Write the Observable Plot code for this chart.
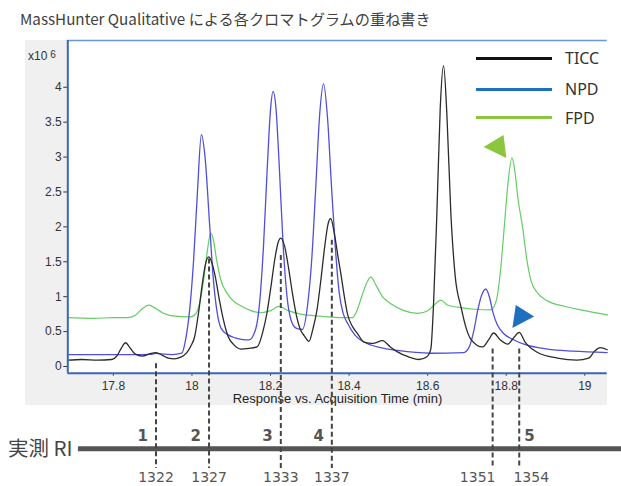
<!DOCTYPE html>
<html><head><meta charset="utf-8">
<script src="https://cdn.jsdelivr.net/npm/d3@7"></script>
<script src="https://cdn.jsdelivr.net/npm/@observablehq/plot@0.6"></script>
<style>
body{margin:0;background:#fff;}
#wrap{position:relative;width:621px;height:486px;overflow:hidden;font-family:"Noto Sans CJK JP","Noto Sans",sans-serif;}
#title{position:absolute;left:20px;top:7px;font-size:15.2px;color:#404040;white-space:nowrap;}
#panel{position:absolute;left:25px;top:40px;width:582px;height:365px;background:#f0f0f0;}
#chart{position:absolute;left:0;top:38px;}
#exp{position:absolute;left:28px;top:49px;font-family:"Liberation Sans",Arial,sans-serif;font-size:12px;color:#333;}
#exp sup{font-size:10px;position:relative;top:-2px;vertical-align:baseline;margin-left:3px;}
.lg{position:absolute;left:476px;width:76px;height:3px;}
.lt{position:absolute;left:565px;font-family:"Noto Sans",sans-serif;font-size:16px;color:#333;line-height:20px;}
#ri{position:absolute;left:8px;top:433px;font-size:20.5px;color:#444;line-height:28px;white-space:nowrap;}
</style></head>
<body>
<div id="wrap">
  <div id="title">MassHunter Qualitative による各クロマトグラムの重ね書き</div>
  <div id="panel"></div>
  <div id="chart"></div>
  <div id="exp">x10<sup>6</sup></div>
  <div id="legend"></div>
  <div id="ri">実測 RI</div>
</div>
<script>
// ---- data (time in min, response in x10^6) ----
const ticc = [[17.684,0.09],[17.72,0.10],[17.76,0.09],[17.795,0.1],[17.81,0.16],[17.82,0.26],[17.831,0.34],[17.842,0.27],[17.855,0.18],[17.874,0.15],[17.892,0.18],[17.908,0.2],[17.925,0.16],[17.94,0.12],[17.955,0.11],[17.97,0.13],[17.987,0.2],[17.997,0.29],[18.007,0.43],[18.017,0.78],[18.027,1.21],[18.035,1.48],[18.042,1.57],[18.05,1.5],[18.06,1.27],[18.07,0.95],[18.08,0.67],[18.092,0.43],[18.107,0.31],[18.124,0.25],[18.145,0.26],[18.166,0.28],[18.181,0.51],[18.191,0.77],[18.201,1.14],[18.211,1.54],[18.219,1.77],[18.226,1.84],[18.236,1.72],[18.246,1.41],[18.256,1.04],[18.266,0.73],[18.276,0.53],[18.286,0.44],[18.298,0.36],[18.308,0.54],[18.318,0.8],[18.328,1.23],[18.338,1.72],[18.346,2.03],[18.353,2.12],[18.363,1.89],[18.371,1.6],[18.379,1.33],[18.388,1.0],[18.396,0.75],[18.41,0.56],[18.4215,0.47],[18.438,0.35],[18.46,0.33],[18.485,0.37],[18.505,0.28],[18.523,0.21],[18.55,0.14],[18.578,0.1],[18.598,0.14],[18.608,0.25],[18.615,0.9],[18.6235,2.2],[18.632,3.7],[18.6405,4.31],[18.649,3.6],[18.659,2.2],[18.670,1.3],[18.685,0.85],[18.698,0.55],[18.71,0.39],[18.74,0.28],[18.755,0.38],[18.768,0.48],[18.785,0.38],[18.804,0.32],[18.82,0.42],[18.833,0.49],[18.848,0.35],[18.88,0.2],[18.93,0.12],[18.98,0.09],[19.01,0.12],[19.025,0.22],[19.039,0.27],[19.057,0.24]];
const npd = [[17.684,0.17],[17.75,0.17],[17.85,0.17],[17.895,0.175],[17.908,0.19],[17.922,0.18],[17.95,0.17],[17.974,0.19],[17.984,0.39],[17.994,0.8],[18.004,1.5],[18.014,2.5],[18.024,3.32],[18.034,2.96],[18.044,2.12],[18.054,1.28],[18.064,0.78],[18.074,0.55],[18.09,0.46],[18.11,0.41],[18.13,0.385],[18.145,0.38],[18.162,0.53],[18.172,0.9],[18.182,1.71],[18.192,2.88],[18.2,3.68],[18.2066,3.94],[18.214,3.69],[18.222,2.9],[18.232,1.75],[18.242,1.0],[18.252,0.67],[18.265,0.55],[18.281,0.53],[18.295,0.91],[18.305,1.54],[18.315,2.55],[18.325,3.6],[18.335,4.05],[18.345,3.57],[18.355,2.6],[18.365,1.7],[18.375,1.05],[18.385,0.76],[18.396,0.62],[18.415,0.45],[18.438,0.35],[18.48,0.27],[18.523,0.23],[18.608,0.19],[18.692,0.2],[18.705,0.27],[18.717,0.5],[18.728,0.82],[18.738,1.03],[18.748,1.11],[18.757,1.0],[18.766,0.78],[18.777,0.6],[18.794,0.47],[18.82,0.38],[18.845,0.32],[18.905,0.25],[18.97,0.22],[19.057,0.2]];
const fpd = [[17.684,0.70],[17.75,0.69],[17.80,0.70],[17.836,0.70],[17.855,0.73],[17.872,0.82],[17.8907,0.88],[17.905,0.84],[17.925,0.77],[17.946,0.73],[17.997,0.71],[18.01,0.76],[18.02,0.92],[18.03,1.25],[18.039,1.65],[18.0478,1.91],[18.055,1.8],[18.063,1.52],[18.073,1.25],[18.0904,1.04],[18.105,0.94],[18.1242,0.87],[18.15,0.8],[18.1752,0.77],[18.2,0.8],[18.2218,0.86],[18.245,0.8],[18.2771,0.75],[18.33,0.72],[18.379,0.70],[18.4088,0.70],[18.42,0.8],[18.432,1.0],[18.445,1.2],[18.4554,1.28],[18.468,1.17],[18.485,1.0],[18.5063,0.90],[18.54,0.8],[18.5743,0.76],[18.6,0.8],[18.62,0.9],[18.6337,0.95],[18.65,0.88],[18.6762,0.85],[18.72,0.82],[18.761,0.81],[18.775,0.95],[18.785,1.35],[18.795,2.0],[18.804,2.6],[18.8145,2.99],[18.822,2.8],[18.83,2.4],[18.8418,1.99],[18.852,1.55],[18.863,1.23],[18.88,1.05],[18.905,0.94],[18.95,0.86],[18.99,0.81],[19.058,0.74]];

const seriesNames = ["TICC","NPD","FPD"];
const legendColors = ["#111111","#1e6fc0","#8cc63f"];
const lineColors = ["#2b2b2b","#4f4fdc","#66cc66"];

const xTicks = [17.8,18,18.2,18.4,18.6,18.8,19];
const yTicks = [0,0.5,1,1.5,2,2.5,3,3.5,4];
const xDomain = [17.684,19.057];
const yDomain = [-0.096,4.67];

// retention index markers
const riTimes = [17.9085,18.0435,18.2262,18.3561,18.7654,18.8331];
const riLabels = ["1322","1327","1333","1337","1351","1354"];
const riTops = [0.04,1.54,1.59,1.81,0.25,0.25];
const peakNumbers = ["1","2","3","4","5"];
const peakTimes = [17.9085,18.0435,18.2262,18.3561,18.8331];
const riBarLevel = -1.18, dashBottom = -1.46;
const riBarStart = 17.711, riBarEnd = 19.3;

// arrowheads
const arrowLeft = [{t:18.7713, v:3.152}];
const arrowRight = [{t:18.8418, v:0.716}];

const toRows = (arr) => arr.map(([t,v]) => ({t, v}));
const riRows = riTimes.map((t,i) => ({t, top: riTops[i], bottom: dashBottom, label: riLabels[i], i}));
const peakRows = peakTimes.map((t,i) => ({t, n: peakNumbers[i], i}));

const triLeft = {draw(ctx, size){ const h = Math.sqrt(size)*0.56; ctx.moveTo(-h, 0.05*h); ctx.lineTo(0.75*h, -h); ctx.lineTo(h, h); ctx.closePath(); }};
const triRight = {draw(ctx, size){ const h = Math.sqrt(size)*0.56; ctx.moveTo(h, 0); ctx.lineTo(-0.6*h, -h); ctx.lineTo(-0.9*h, h); ctx.closePath(); }};

const riFont = {fontFamily: "'DejaVu Sans', sans-serif", fontSize: 14, fill: "#555", frameAnchor: "bottom", lineAnchor: "middle", dy: 104};
const numFont = {fontFamily: "'DejaVu Sans', sans-serif", fontWeight: "bold", fontSize: 15, fill: "#555", frameAnchor: "bottom", lineAnchor: "middle", dy: 63};

const chart = Plot.plot({
  width: 621, height: 448,
  marginTop: 2, marginRight: 14.3, marginBottom: 113.3, marginLeft: 67.3,
  style: {background: "transparent", fontFamily: "'Liberation Sans', Arial, sans-serif", fontSize: "12px", color: "#333", overflow: "visible"},
  x: {domain: xDomain, ticks: xTicks, tickFormat: d => String(+d.toFixed(1)), tickSize: 3, tickPadding: 5, label: null},
  y: {domain: yDomain, ticks: yTicks, tickFormat: d => String(d), tickSize: 4, tickPadding: 2, label: null},
  marks: [
    Plot.frame({fill: "white", stroke: null}),
    Plot.ruleY([yDomain[1]], {stroke: "#6a95d6", strokeWidth: 1.5}),
    Plot.line(toRows(fpd), {x: "t", y: "v", stroke: lineColors[2], strokeWidth: 1.2, curve: "monotone-x"}),
    Plot.line(toRows(npd), {x: "t", y: "v", stroke: lineColors[1], strokeWidth: 1.3, curve: "monotone-x"}),
    Plot.line(toRows(ticc), {x: "t", y: "v", stroke: lineColors[0], strokeWidth: 1.3, curve: "monotone-x"}),
    Plot.ruleY([yDomain[0]], {stroke: "#3a66b8", strokeWidth: 2}),
    Plot.ruleX([xDomain[0]], {stroke: "#3a66b8", strokeWidth: 2}),
    Plot.dot(arrowLeft, {x: "t", y: "v", symbol: triLeft, r: 11.5, fill: "#8cc63f", stroke: "none"}),
    Plot.dot(arrowRight, {x: "t", y: "v", symbol: triRight, r: 11.5, fill: "#1e6fc0", stroke: "none"}),
    Plot.text(["Response vs. Acquisition Time (min)"], {frameAnchor: "bottom", lineAnchor: "middle", dy: 26, fontSize: 13, fill: "#222"}),
    Plot.ruleY([riBarLevel], {x1: riBarStart, x2: riBarEnd, stroke: "#555", strokeWidth: 5}),
    Plot.ruleX(riRows, {x: "t", y1: "top", y2: "bottom", stroke: "#444", strokeWidth: 2, strokeDasharray: "5,3"}),
    Plot.text(peakRows.filter(d => d.i < 4), {x: "t", text: "n", dx: -8, textAnchor: "end", ...numFont}),
    Plot.text(peakRows.filter(d => d.i === 4), {x: "t", text: "n", dx: 5, textAnchor: "start", ...numFont}),
    Plot.text(riRows.filter(d => d.i < 4), {x: "t", text: "label", ...riFont}),
    Plot.text(riRows.filter(d => d.i === 4), {x: "t", text: "label", dx: -15, ...riFont}),
    Plot.text(riRows.filter(d => d.i === 5), {x: "t", text: "label", dx: 12, ...riFont})
  ]
});
document.getElementById("chart").appendChild(chart);

// legend
const legendTops = [58.3, 89, 117.7];
const lg = document.getElementById("legend");
seriesNames.forEach((name, i) => {
  const line = document.createElement("div");
  line.className = "lg";
  line.style.top = (legendTops[i] - 1.5) + "px";
  line.style.background = legendColors[i];
  lg.appendChild(line);
  const txt = document.createElement("div");
  txt.className = "lt";
  txt.style.top = (legendTops[i] - 10) + "px";
  txt.textContent = name;
  lg.appendChild(txt);
});
</script>
</body></html>
